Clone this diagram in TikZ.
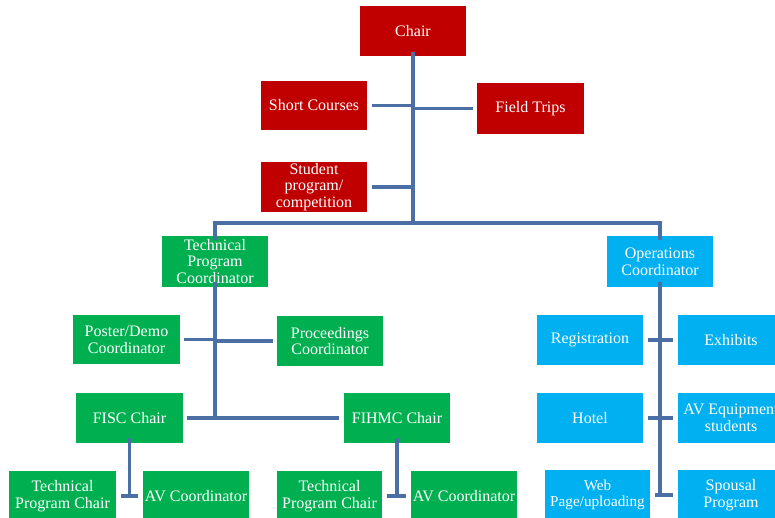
\documentclass[tikz,border=0pt]{standalone}
\usepackage{fontspec}
\setmainfont{Liberation Serif}
\newfontfamily\boxfont{Liberation Serif}
\definecolor{cred}{HTML}{C00000}
\definecolor{cgreen}{HTML}{00B050}
\definecolor{cblue}{HTML}{00B0F0}
\definecolor{cline}{HTML}{4A6FA5}
\begin{document}
\begin{tikzpicture}[x=1pt,y=-1pt,
  box/.style={minimum width=106pt,minimum height=50pt,inner sep=0pt,align=center,text=white,
    font=\boxfont\fontsize{16}{16.7}\selectfont},
  rbox/.style={box,fill=cred},
  gbox/.style={box,fill=cgreen},
  bbox/.style={box,fill=cblue},
  conn/.style={draw=cline,line width=3.4pt,line join=miter}]
\useasboundingbox (0,0) rectangle (775,517);
\begin{scope}
\clip (0,0) rectangle (775,517);
\node[rbox] (chair) at (413,31) {Chair};
\node[rbox,minimum height=49pt] (sc) at (314,105.5) {Short Courses};
\node[rbox,minimum width=107pt,minimum height=51pt] (ft) at (530.5,108.5) {Field Trips};
\node[rbox] (stu) at (314,187) {Student\\program/\\competition};
\node[gbox,minimum height=51pt] (tpc) at (215,261.5) {Technical\\Program\\Coordinator};
\node[bbox,minimum height=51pt] (ops) at (660,261.5) {Operations\\Coordinator};
\node[gbox,minimum width=107pt,minimum height=49pt] (poster) at (126.5,339.5) {Poster/Demo\\Coordinator};
\node[gbox] (proc) at (330,341) {Proceedings\\Coordinator};
\node[gbox,minimum width=107pt] (fisc) at (129.5,418) {FISC Chair};
\node[gbox] (fihmc) at (397,418) {FIHMC Chair};
\node[gbox,minimum width=107pt] (tpc1) at (62.5,496) {Technical\\Program Chair};
\node[gbox] (av1) at (196,496) {AV Coordinator};
\node[gbox,minimum width=105pt] (tpc2) at (329.5,496) {Technical\\Program Chair};
\node[gbox] (av2) at (464,496) {AV Coordinator};
\node[bbox] (reg) at (590,340) {Registration};
\node[bbox] (exh) at (731,340) {Exhibits};
\node[bbox] (hotel) at (590,418) {Hotel};
\node[bbox] (aveq) at (731,418) {AV Equipment\\students};
\node[bbox,minimum width=105pt,font=\boxfont\fontsize{15.2}{16.7}\selectfont] (web) at (597.5,495) {Web\\Page/uploading};
\node[bbox] (spo) at (731,495) {Spousal\\Program};
\end{scope}
% junction coordinates
\coordinate (top) at (413,223);
% trunk from chair
\draw[conn] ([yshift=4pt]chair.south) -- (top);
\draw[conn] ([xshift=5pt]sc.east) -- (sc.east -| chair.south);
\draw[conn] (ft.west -| chair.south) -- ([xshift=-4pt]ft.west);
\draw[conn] ([xshift=5pt]stu.east) -- (stu.east -| chair.south);
\draw[conn] ([yshift=-4pt]tpc.north) -- (tpc.north |- top) -- (ops.north |- top) -- ([yshift=-4pt]ops.north);
% technical program branch
\draw[conn] ([yshift=5pt]tpc.south) -- (tpc.south |- fisc.east);
\draw[conn] ([xshift=4pt]poster.east) -- (poster.east -| tpc.south);
\draw[conn] (proc.west -| tpc.south) -- ([xshift=-4pt]proc.west);
\draw[conn] ([xshift=4pt]fisc.east) -- ([xshift=-5pt]fihmc.west);
\draw[conn] ([yshift=5pt]fisc.south) -- (fisc.south |- tpc1.east);
\draw[conn] ([xshift=5pt]tpc1.east) -- ([xshift=-5pt]av1.west);
\draw[conn] ([yshift=5pt]fihmc.south) -- (fihmc.south |- tpc2.east);
\draw[conn] ([xshift=5pt]tpc2.east) -- ([xshift=-5pt]av2.west);
% operations branch
\draw[conn] ([yshift=5pt]ops.south) -- (ops.south |- web.east);
\draw[conn] ([xshift=5pt]reg.east) -- ([xshift=-5pt]exh.west);
\draw[conn] ([xshift=5pt]hotel.east) -- ([xshift=-5pt]aveq.west);
\draw[conn] ([xshift=5pt]web.east) -- ([xshift=-5pt]spo.west);
\end{tikzpicture}
\end{document}
